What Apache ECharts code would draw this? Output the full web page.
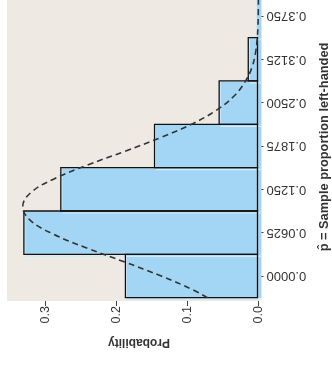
<!DOCTYPE html>
<html>
<head>
<meta charset="utf-8">
<script src="https://cdn.jsdelivr.net/npm/echarts@6/dist/echarts.min.js"></script>
<style>
html,body{margin:0;padding:0;background:#ffffff;}
#chart{width:332px;height:367px;}
</style>
</head>
<body>
<div id="chart"></div>
<script>
// p-hat values (bar centres) and their probabilities
const pHat = [0, 0.0625, 0.125, 0.1875, 0.25, 0.3125, 0.375];
const probability = [0.186, 0.329, 0.277, 0.145, 0.054, 0.013, 0.003];
// dashed curve
const curveX = [-0.03125, -0.02, 0, 0.02, 0.04, 0.06, 0.08, 0.10, 0.12, 0.14, 0.16, 0.18, 0.20, 0.22, 0.24, 0.26, 0.28, 0.30, 0.32, 0.34, 0.36, 0.38, 0.40];
const curveY = [0.072, 0.092, 0.137, 0.188, 0.241, 0.288, 0.321, 0.332, 0.321, 0.288, 0.241, 0.188, 0.137, 0.092, 0.058, 0.034, 0.019, 0.0095, 0.0045, 0.002, 0.0008, 0.0003, 0.0001];
// tick labels
const pHatTickValues = [0, 0.0625, 0.125, 0.1875, 0.25, 0.3125, 0.375];
const pHatTickLabels = ['0.0000', '0.0625', '0.1250', '0.1875', '0.2500', '0.3125', '0.3750'];
const probTickValues = [0, 0.1, 0.2, 0.3];
const probTickLabels = ['0.0', '0.1', '0.2', '0.3'];
const xTitle = 'Probability';
const yTitle = 'p\u0302 = Sample proportion left-handed';

const step = pHat[1] - pHat[0];
const barData = pHat.map((c, i) => [c - step / 2, c + step / 2, probability[i]]);
const curveData = curveX.map((x, i) => [curveY[i], x]);

function labelFor(values, labels, v) {
  for (let i = 0; i < values.length; i++) {
    if (Math.abs(values[i] - v) < 1e-6) return labels[i];
  }
  return '';
}

const font = 'Liberation Sans, Arial, Helvetica, sans-serif';
const chart = echarts.init(document.getElementById('chart'), null, {renderer: 'canvas'});

const option = {
  animation: false,
  backgroundColor: '#ffffff',
  grid: {
    left: 7, right: 73.5, top: 0, bottom: 66,
    outerBoundsMode: 'none',
    show: true, backgroundColor: '#EEE9E2', borderWidth: 0
  },
  graphic: [
    {type: 'text', z: 10, x: 139, y: 342, rotation: Math.PI,
      style: {text: xTitle, fontSize: 12, fontWeight: 'bold', fill: '#333', fontFamily: font, align: 'center', verticalAlign: 'middle'}},
    {type: 'text', z: 10, x: 324, y: 147, rotation: Math.PI / 2,
      style: {text: yTitle, fontSize: 12.8, fontWeight: 'bold', fill: '#333', fontFamily: font, align: 'center', verticalAlign: 'middle'}}
  ],
  xAxis: {
    type: 'value',
    inverse: true,
    min: 0,
    max: 0.3542,
    position: 'bottom',
    splitLine: {show: false},
    axisLine: {show: false, onZero: false},
    axisTick: {show: true, customValues: probTickValues, length: 5, lineStyle: {color: '#444', width: 1}},
    axisLabel: {
      customValues: probTickValues,
      rotate: 90, margin: 5, fontSize: 12.5, color: '#333', fontFamily: font,
      formatter: v => labelFor(probTickValues, probTickLabels, v)
    }
  },
  yAxis: {
    type: 'value',
    position: 'right',
    min: -0.036,
    max: 0.398,
    splitLine: {show: false},
    axisLine: {show: false, onZero: false},
    axisTick: {show: true, customValues: pHatTickValues, length: 5, lineStyle: {color: '#444', width: 1}},
    axisLabel: {
      customValues: pHatTickValues,
      rotate: 180, margin: 8, fontSize: 13, color: '#333', fontFamily: font,
      formatter: v => labelFor(pHatTickValues, pHatTickLabels, v)
    }
  },
  series: [
    {
      type: 'custom',
      name: 'fill',
      clip: false,
      z: 2,
      data: barData,
      renderItem: function (params, api) {
        const lo = api.value(0), hi = api.value(1), v = api.value(2);
        const tl = api.coord([v, hi]);
        const br = api.coord([0, lo]);
        const x = tl[0] + 0.5, y = tl[1] + 0.5;
        const w = br[0] - tl[0] + 2.5, h = br[1] - tl[1];
        return {
          type: 'group',
          children: [
            {type: 'rect', shape: {x: x, y: y, width: w, height: h}, style: {fill: '#A3D6F5'}},
            {type: 'line', shape: {x1: x, y1: br[1] + 2, x2: x + w, y2: br[1] + 2}, style: {stroke: '#D3EAF7', lineWidth: 1.2}}
          ]
        };
      }
    },
    {
      type: 'custom',
      name: 'outline',
      clip: false,
      z: 3,
      data: barData.slice(0, 6),
      renderItem: function (params, api) {
        const lo = api.value(0), hi = api.value(1), v = api.value(2);
        const tl = api.coord([v, hi]);
        const br = api.coord([0, lo]);
        return {
          type: 'rect',
          shape: {x: tl[0] - 1, y: tl[1], width: br[0] - tl[0], height: br[1] - tl[1]},
          style: {fill: 'none', stroke: '#111111', lineWidth: 1.3}
        };
      }
    },
    {
      type: 'line',
      name: 'curve',
      z: 4,
      data: curveData,
      smooth: 0.4,
      symbol: 'none',
      clip: true,
      lineStyle: {color: '#333333', width: 1.6, type: [6, 4]}
    }
  ]
};
chart.setOption(option);
</script>
</body>
</html>
